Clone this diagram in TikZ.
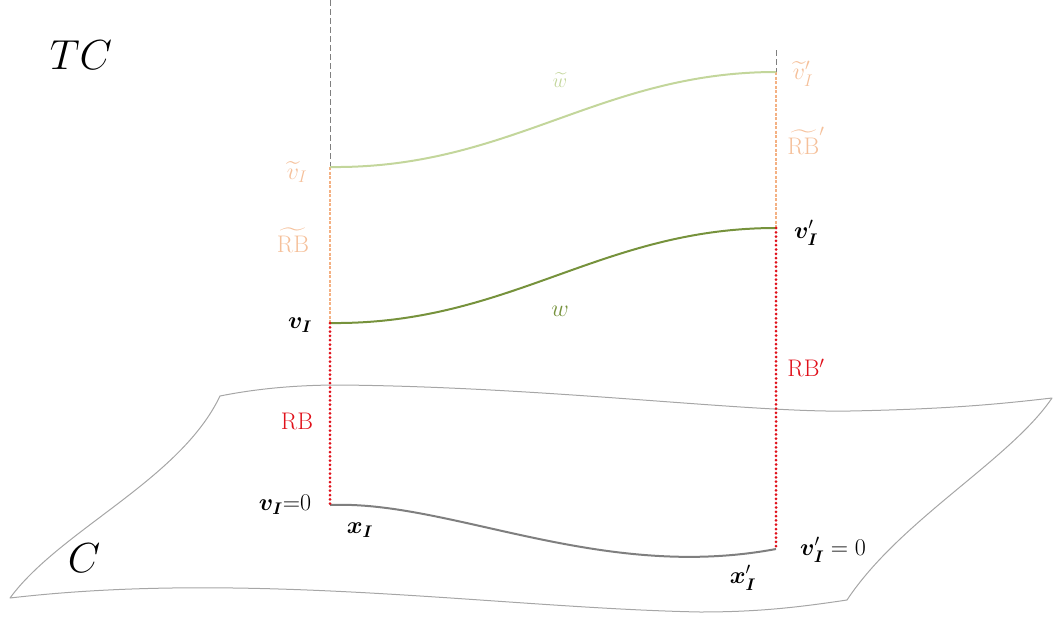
\RequirePackage{fix-cm}
\documentclass[tikz,border=0pt]{standalone}
\usepackage{amsmath,bm}
\definecolor{surf}{HTML}{A6A6A6}
\definecolor{wdark}{HTML}{76923C}
\definecolor{wlight}{HTML}{C3D69B}
\definecolor{orng}{HTML}{F4B183}
\definecolor{orngtxt}{HTML}{F5C09A}
\definecolor{rbred}{HTML}{E0101A}
\definecolor{xgray}{HTML}{7F7F7F}
\tikzset{
  lbl/.style={font=\fontsize{24}{28}\selectfont, inner sep=0pt},
  big/.style={font=\fontsize{42}{48}\selectfont, inner sep=0pt},
  redline/.style={rbred, line width=3pt, line cap=round, dash pattern=on 0pt off 4.3pt},
  orline/.style={orng, line width=1.2pt, dash pattern=on 3pt off 1.5pt},
  grline/.style={xgray, line width=0.8pt, dash pattern=on 6pt off 3pt},
}
\begin{document}
\begin{tikzpicture}[x=1pt,y=-1pt]
\useasboundingbox (0,0) rectangle (1053,619);
% surface C
\draw[surf, line width=1pt, line join=round]
  (220,396) .. controls (260,388) and (300,385) .. (340,385)
  .. controls (550,387) and (750,413) .. (850,411)
  .. controls (950,409) and (1000,404) .. (1052,398)
  .. controls (1010,460) and (900,520) .. (847,600)
  .. controls (800,607) and (760,612) .. (700,612)
  .. controls (500,608) and (250,570) .. (10,598)
  .. controls (60,530) and (180,480) .. (220,396) -- cycle;
% key points
\coordinate (A0) at (330,505);
\coordinate (A1) at (330,323);
\coordinate (A2) at (330,167);
\coordinate (At) at (330,0);
\coordinate (B0) at (776,549);
\coordinate (B1) at (776,228);
\coordinate (B2) at (776,72);
\coordinate (Bt) at (776,50);
% verticals
\draw[grline] (At) -- (A2);
\draw[grline] (Bt) -- (B2);
\draw[orline] (A2) -- (A1);
\draw[orline] (B2) -- (B1);
% curves
\draw[wlight, line width=2pt] (A2) .. controls (510,169) and (600,72) .. (B2);
\draw[wdark, line width=2pt] (A1) .. controls (510,325) and (600,228) .. (B1);
\draw[xgray, line width=2pt] (A0) .. controls (450,500) and (600,582) .. (B0);
\draw[redline] (A1) -- (A0);
\draw[redline] (B1) -- (B0);
% labels
\node[big] (tc) at (81,55) {$TC$};
\node[big] (c) at (84,558) {$C$};
\node[lbl, text=orngtxt] (vt) at (297,172) {$\widetilde{v}_I$};
\node[lbl, text=orngtxt] (rbt) at (293,240) {$\widetilde{\mathrm{RB}}$};
\node[lbl] (v) at (300,325) {$\bm{v_I}$};
\node[lbl, text=rbred] (rb) at (297,421) {RB};
\node[lbl] (v0) at (285,505) {$\bm{v_I}{=}0$};
\node[lbl] (x) at (360,530) {$\bm{x_I}$};
\node[lbl] (xp) at (743,578) {$\bm{x_I}'$};
\node[lbl] (vp0) at (833,550) {$\bm{v_I}' = 0$};
\node[lbl, text=rbred] (rbp) at (806,368) {RB$'$};
\node[lbl] (vp) at (806,233) {$\bm{v_I}'$};
\node[lbl, text=orngtxt] (rbtp) at (806,141) {$\widetilde{\mathrm{RB}}'$};
\node[lbl, text=orngtxt] (vtp) at (803,74) {$\widetilde{v}_I'$};
\node[lbl, text=wlight, font=\fontsize{20}{24}\selectfont] (wt) at (560,80) {$\widetilde{w}$};
\node[lbl, text=wdark] (w) at (560,311) {$w$};
\end{tikzpicture}
\end{document}
